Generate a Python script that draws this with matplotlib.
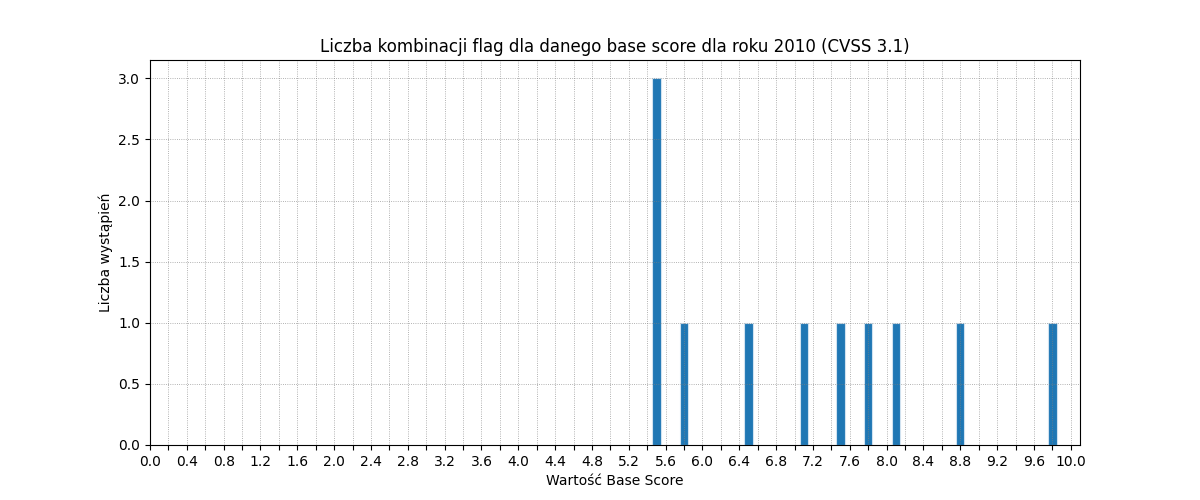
import matplotlib
matplotlib.use("Agg")
import matplotlib.pyplot as plt
import numpy as np

# base score values and how often each one occurs
scores = [5.5, 5.8, 6.5, 7.1, 7.5, 7.8, 8.1, 8.8, 9.8]
counts = [3, 1, 1, 1, 1, 1, 1, 1, 1]

tick_pos = np.round(np.arange(0, 10.01, 0.2), 1)
tick_labels = [f"{v:.1f}" if i % 2 == 0 else "" for i, v in enumerate(tick_pos)]

title = "Liczba kombinacji flag dla danego base score dla roku 2010 (CVSS 3.1)"

fig, ax = plt.subplots(figsize=(12, 5), dpi=100)
ax.bar(scores, counts, width=0.09, color="#1f77b4",
       edgecolor="#d0e2f0", linewidth=0.8)

ax.set_xticks(tick_pos)
ax.set_xticklabels(tick_labels)
ax.set_xlim(0, 10.1)
ax.grid(True, linestyle=":", linewidth=0.6, color="gray", alpha=0.8)

ax.set_title(title)
ax.set_xlabel("Wartość Base Score")
ax.set_ylabel("Liczba wystąpień")

fig.savefig("out.png", dpi=100)
